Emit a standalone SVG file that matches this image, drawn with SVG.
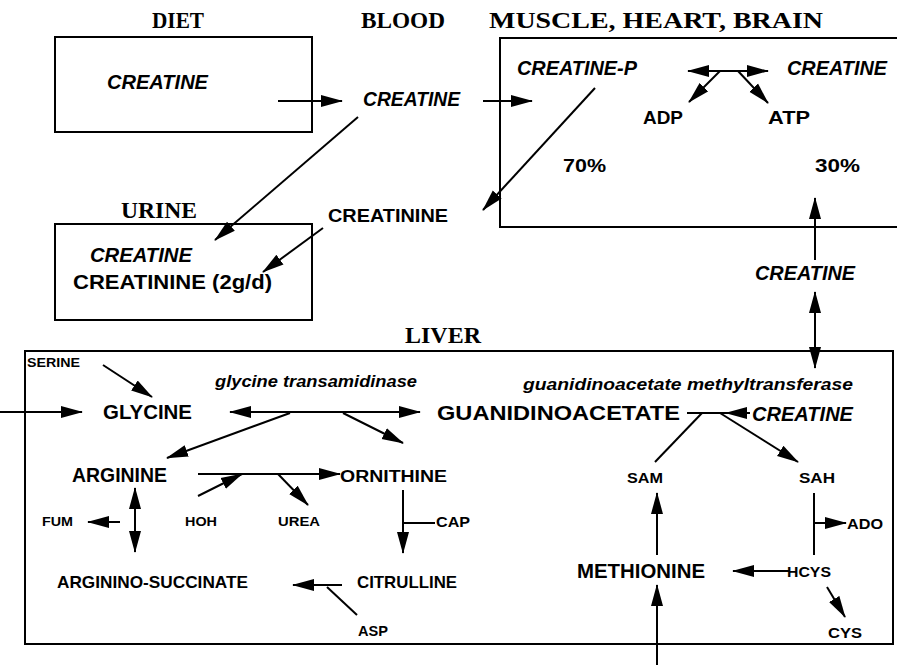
<svg xmlns="http://www.w3.org/2000/svg" width="897" height="665" viewBox="0 0 897 665">
<style>
.bg{fill:#fff}
.box{fill:none;stroke:#000;stroke-width:2}
.ttl{font-family:"Liberation Serif","Times New Roman",serif;font-weight:bold;font-size:23px;fill:#000}
.b{font-family:"Liberation Sans",Arial,sans-serif;font-weight:bold;fill:#000}
.i{font-family:"Liberation Sans",Arial,sans-serif;font-weight:bold;font-style:italic;fill:#000}
.ln{fill:none;stroke:#000;stroke-width:2}
.a{marker-end:url(#ah)}
.aa{marker-end:url(#ah);marker-start:url(#ah)}
</style>
<defs>
<marker id="ah" markerUnits="userSpaceOnUse" markerWidth="23" markerHeight="14" refX="21" refY="7" orient="auto-start-reverse" viewBox="0 0 23 14">
<path d="M0,1 L22,7 L0,13 z" fill="#000"/>
</marker>
</defs>
<rect class="bg" x="0" y="0" width="897" height="665"/>

<g id="titles">
<text class="ttl" x="152" y="28" textLength="52" lengthAdjust="spacingAndGlyphs">DIET</text>
<text class="ttl" x="361" y="28" textLength="84" lengthAdjust="spacingAndGlyphs">BLOOD</text>
<text class="ttl" x="489" y="28" textLength="334" lengthAdjust="spacingAndGlyphs">MUSCLE, HEART, BRAIN</text>
<text class="ttl" x="121" y="218" textLength="76" lengthAdjust="spacingAndGlyphs">URINE</text>
<text class="ttl" x="405" y="343" textLength="76" lengthAdjust="spacingAndGlyphs">LIVER</text>
</g>

<g id="diet">
<rect class="box" x="55" y="37" width="257" height="95"/>
<text class="i" x="107" y="89" font-size="19.5" textLength="101" lengthAdjust="spacingAndGlyphs">CREATINE</text>
</g>

<g id="blood-creatine">
<text class="i" x="363" y="106" font-size="19.5" textLength="97" lengthAdjust="spacingAndGlyphs">CREATINE</text>
</g>

<g id="blood-creatinine">
<text class="b" x="328" y="222" font-size="19" textLength="120" lengthAdjust="spacingAndGlyphs">CREATININE</text>
</g>

<g id="muscle">
<path class="box" d="M900,38 L500,38 L500,227 L900,227"/>
<text class="i" x="517" y="75" font-size="19.5" textLength="120" lengthAdjust="spacingAndGlyphs">CREATINE-P</text>
<text class="i" x="787" y="75" font-size="19.5" textLength="100" lengthAdjust="spacingAndGlyphs">CREATINE</text>
<text class="b" x="643" y="124" font-size="18" textLength="40" lengthAdjust="spacingAndGlyphs">ADP</text>
<text class="b" x="768" y="124" font-size="18" textLength="42" lengthAdjust="spacingAndGlyphs">ATP</text>
<text class="b" x="563" y="172" font-size="18" textLength="43" lengthAdjust="spacingAndGlyphs">70%</text>
<text class="b" x="815" y="172" font-size="18" textLength="45" lengthAdjust="spacingAndGlyphs">30%</text>
</g>

<g id="urine">
<rect class="box" x="55" y="224" width="257" height="96"/>
<text class="i" x="90" y="262" font-size="19.5" textLength="102" lengthAdjust="spacingAndGlyphs">CREATINE</text>
<text class="b" x="73" y="289" font-size="20" textLength="199" lengthAdjust="spacingAndGlyphs">CREATININE (2g/d)</text>
</g>

<g id="transport-creatine">
<text class="i" x="755" y="280" font-size="19.5" textLength="100" lengthAdjust="spacingAndGlyphs">CREATINE</text>
</g>

<g id="liver">
<rect class="box" x="25" y="351" width="868" height="293"/>
<text class="b" x="27" y="367" font-size="13" textLength="53" lengthAdjust="spacingAndGlyphs">SERINE</text>
<text class="i" x="215" y="387" font-size="17" textLength="202" lengthAdjust="spacingAndGlyphs">glycine transamidinase</text>
<text class="i" x="523" y="390" font-size="17" textLength="330" lengthAdjust="spacingAndGlyphs">guanidinoacetate methyltransferase</text>
<text class="b" x="103" y="419" font-size="19.5" textLength="89" lengthAdjust="spacingAndGlyphs">GLYCINE</text>
<text class="b" x="437" y="420" font-size="19.5" textLength="243" lengthAdjust="spacingAndGlyphs">GUANIDINOACETATE</text>
<text class="i" x="752" y="421" font-size="19.5" textLength="101" lengthAdjust="spacingAndGlyphs">CREATINE</text>
<text class="b" x="72" y="482" font-size="19.5" textLength="95" lengthAdjust="spacingAndGlyphs">ARGININE</text>
<text class="b" x="340" y="482" font-size="16" textLength="107" lengthAdjust="spacingAndGlyphs">ORNITHINE</text>
<text class="b" x="627" y="483" font-size="15.5" textLength="36" lengthAdjust="spacingAndGlyphs">SAM</text>
<text class="b" x="799" y="483" font-size="15.5" textLength="36" lengthAdjust="spacingAndGlyphs">SAH</text>
<text class="b" x="42" y="526" font-size="13.5" textLength="31" lengthAdjust="spacingAndGlyphs">FUM</text>
<text class="b" x="185" y="526" font-size="13.5" textLength="32" lengthAdjust="spacingAndGlyphs">HOH</text>
<text class="b" x="278" y="526" font-size="13.5" textLength="42" lengthAdjust="spacingAndGlyphs">UREA</text>
<text class="b" x="436" y="527" font-size="14" textLength="34" lengthAdjust="spacingAndGlyphs">CAP</text>
<text class="b" x="847" y="529" font-size="14" textLength="36" lengthAdjust="spacingAndGlyphs">ADO</text>
<text class="b" x="57" y="588" font-size="17" textLength="191" lengthAdjust="spacingAndGlyphs">ARGININO-SUCCINATE</text>
<text class="b" x="357" y="588" font-size="17" textLength="100" lengthAdjust="spacingAndGlyphs">CITRULLINE</text>
<text class="b" x="577" y="578" font-size="19.5" textLength="128" lengthAdjust="spacingAndGlyphs">METHIONINE</text>
<text class="b" x="787" y="577" font-size="15" textLength="44" lengthAdjust="spacingAndGlyphs">HCYS</text>
<text class="b" x="358" y="636" font-size="14" textLength="30" lengthAdjust="spacingAndGlyphs">ASP</text>
<text class="b" x="828" y="638" font-size="14" textLength="34" lengthAdjust="spacingAndGlyphs">CYS</text>
</g>

<g id="connectors">
<path class="ln a" d="M278,101 L342,101"/>
<path class="ln a" d="M483,101 L532,101"/>
<path class="ln a" d="M358,117 L215,240"/>
<path class="ln a" d="M323,228 L263,272"/>
<path class="ln a" d="M595,88 L483,210"/>
<path class="ln aa" d="M688,71 L768,71"/>
<path class="ln a" d="M720,71 L689,102"/>
<path class="ln a" d="M738,71 L768,103"/>
<path class="ln a" d="M815,260 L815,198"/>
<path class="ln aa" d="M815,292 L815,368"/>
<path class="ln a" d="M103,365 L152,397"/>
<path class="ln a" d="M0,412 L82,412"/>
<path class="ln aa" d="M230,412 L420,412"/>
<path class="ln a" d="M290,413 L167,458"/>
<path class="ln a" d="M343,413 L403,443"/>
<path class="ln a" d="M198,474 L340,474"/>
<path class="ln a" d="M198,496 L242,474"/>
<path class="ln a" d="M278,474 L308,505"/>
<path class="ln aa" d="M135,488 L135,552"/>
<path class="ln a" d="M120,522 L88,522"/>
<path class="ln a" d="M403,490 L403,553"/>
<path class="ln" d="M403,523 L435,523"/>
<path class="ln a" d="M342,585 L293,585"/>
<path class="ln" d="M357,615 L327,587"/>
<path class="ln" d="M687,413 L750,413"/>
<path class="ln a" d="M750,413 L726,413"/>
<path class="ln" d="M655,462 L702,413"/>
<path class="ln a" d="M720,413 L798,462"/>
<path class="ln a" d="M657,555 L657,493"/>
<path class="ln a" d="M657,665 L657,585"/>
<path class="ln" d="M814,493 L814,555"/>
<path class="ln a" d="M814,523 L846,523"/>
<path class="ln a" d="M790,571 L733,571"/>
<path class="ln a" d="M827,587 L845,617"/>
</g>
</svg>
